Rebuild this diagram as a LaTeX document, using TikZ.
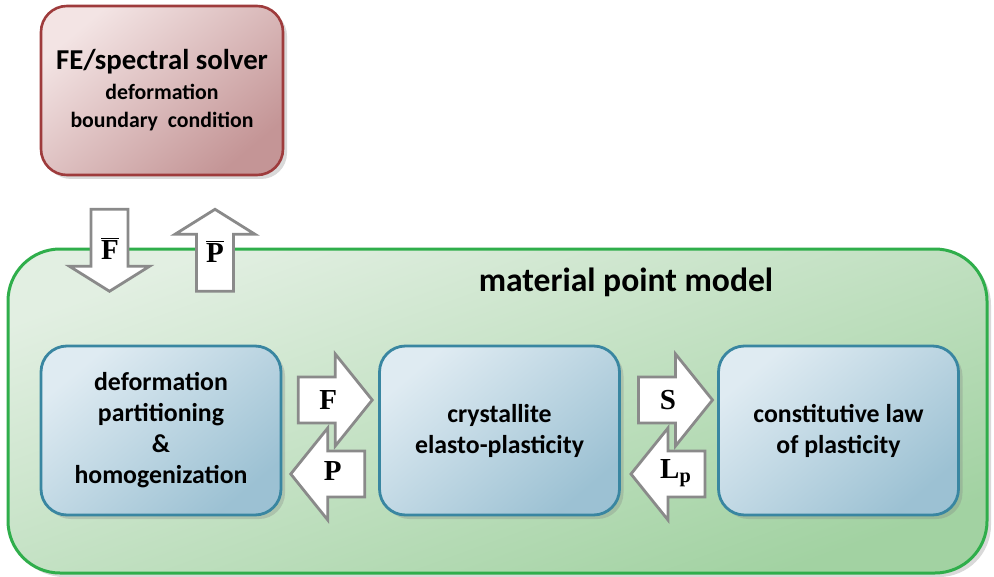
\documentclass[tikz,border=0pt]{standalone}
\usepackage{fontspec}
\setmainfont{Carlito}
\newfontfamily\varfont{Liberation Serif}
\usetikzlibrary{shadows,calc}

\definecolor{solvertop}{HTML}{F3E4E4}
\definecolor{solverbot}{HTML}{C49596}
\definecolor{solverline}{HTML}{9E3B3C}
\definecolor{modeltop}{HTML}{E2EFE2}
\definecolor{modelbot}{HTML}{A2D2A2}
\definecolor{modelline}{HTML}{2FAE4B}
\definecolor{leveltop}{HTML}{DFEBF2}
\definecolor{levelbot}{HTML}{9CC1D3}
\definecolor{levelline}{HTML}{3986A1}
\definecolor{arrowgray}{HTML}{8A8A8A}

\tikzset{
	boxshadow/.style={drop shadow={shadow xshift=2pt, shadow yshift=-2pt, opacity=.3}},
	solverbox/.style={draw=solverline, line width=1.3pt, rounded corners=13pt,
		top color=solvertop, bottom color=solverbot, shading angle=40,
		minimum width=121pt, minimum height=84.5pt, align=center,
		font=\bfseries\fontsize{10.9}{14}\selectfont, boxshadow},
	modelbox/.style={draw=modelline, line width=1.5pt, rounded corners=26pt,
		top color=modeltop, bottom color=modelbot, shading angle=20,
		minimum width=489.5pt, minimum height=162pt, boxshadow},
	levelbox/.style={draw=levelline, line width=1.4pt, rounded corners=13pt,
		top color=leveltop, bottom color=levelbot, shading angle=40,
		minimum width=120pt, minimum height=84.5pt, align=center,
		font=\bfseries\fontsize{12.9}{15.5}\selectfont, boxshadow},
	arrowline/.style={draw=arrowgray, fill=white, line width=1.4pt, line join=miter},
	varlabel/.style={font=\varfont\bfseries\fontsize{14.5}{16}\selectfont, inner sep=0pt},
	pics/fatarrow/.style={code={
		\draw[arrowline] (-37,-23) -- (0,-23) -- (0,-46) -- (37,0) -- (0,46) -- (0,23) -- (-37,23) -- cycle;
	}},
	pics/slimarrow/.style={code={
		\draw[arrowline] (-41,-18.5) -- (16,-18.5) -- (16,-40) -- (41,0) -- (16,40) -- (16,18.5) -- (-41,18.5) -- cycle;
	}}
}

\begin{document}
\begin{tikzpicture}[x=0.5pt,y=-0.5pt]

\useasboundingbox (0,0) rectangle (994,577);

% Macro scale solver
\node[solverbox] (solver) at (162,90.5)
	{{\fontsize{14.4}{16}\selectfont FE/spectral solver}\\[1pt]
	deformation\\boundary\ \ condition};

% Material point model frame
\node[modelbox] (model) at (497.5,411) {};
\node[font=\bfseries\fontsize{16.8}{20}\selectfont] (modeltitle) at (626,282) {material point model};

% The three levels
\node[levelbox] (homog) at (161,430.5) {deformation\\partitioning\\\&\\homogenization};
\node[levelbox] (cryst) at (499.5,430.5) {crystallite\\elasto-plasticity};
\node[levelbox] (plast) at (838.5,430.5) {constitutive law\\of plasticity};

\coordinate (hc) at ($(homog.east)!.5!(cryst.west)$);
\coordinate (cp) at ($(cryst.east)!.5!(plast.west)$);

% Exchange with the solver
\pic[rotate=-90] at ($(solver.south)+(-52.5,74)$) {slimarrow};
\pic[rotate=90] at ($(solver.south)+(53,74)$) {slimarrow};
\node[varlabel] (Fbar) at ($(solver.south)+(-52,72)$) {$\overline{\hbox{F}}$};
\node[varlabel] (Pbar) at ($(solver.south)+(53,75)$) {$\overline{\hbox{P}}$};

% Homogenization <-> crystallite
\pic at ($(hc)+(5,-30.5)$) {fatarrow};
\pic[rotate=180] at ($(hc)+(-2.5,43.5)$) {fatarrow};
\node[varlabel] (Fdef) at ($(hc)+(-2,-30.5)$) {F};
\node[varlabel] (Pstress) at ($(hc)+(2.5,40)$) {P};

% Crystallite <-> constitutive law
\pic at ($(cp)+(6.5,-30.5)$) {fatarrow};
\pic[rotate=180] at ($(cp)+(-1,43.5)$) {fatarrow};
\node[varlabel] (Sstress) at ($(cp)+(-1,-30.5)$) {S};
\node[varlabel] (Lvel) at ($(cp)+(7,43)$) {L\textsubscript{p}};

\end{tikzpicture}
\end{document}
